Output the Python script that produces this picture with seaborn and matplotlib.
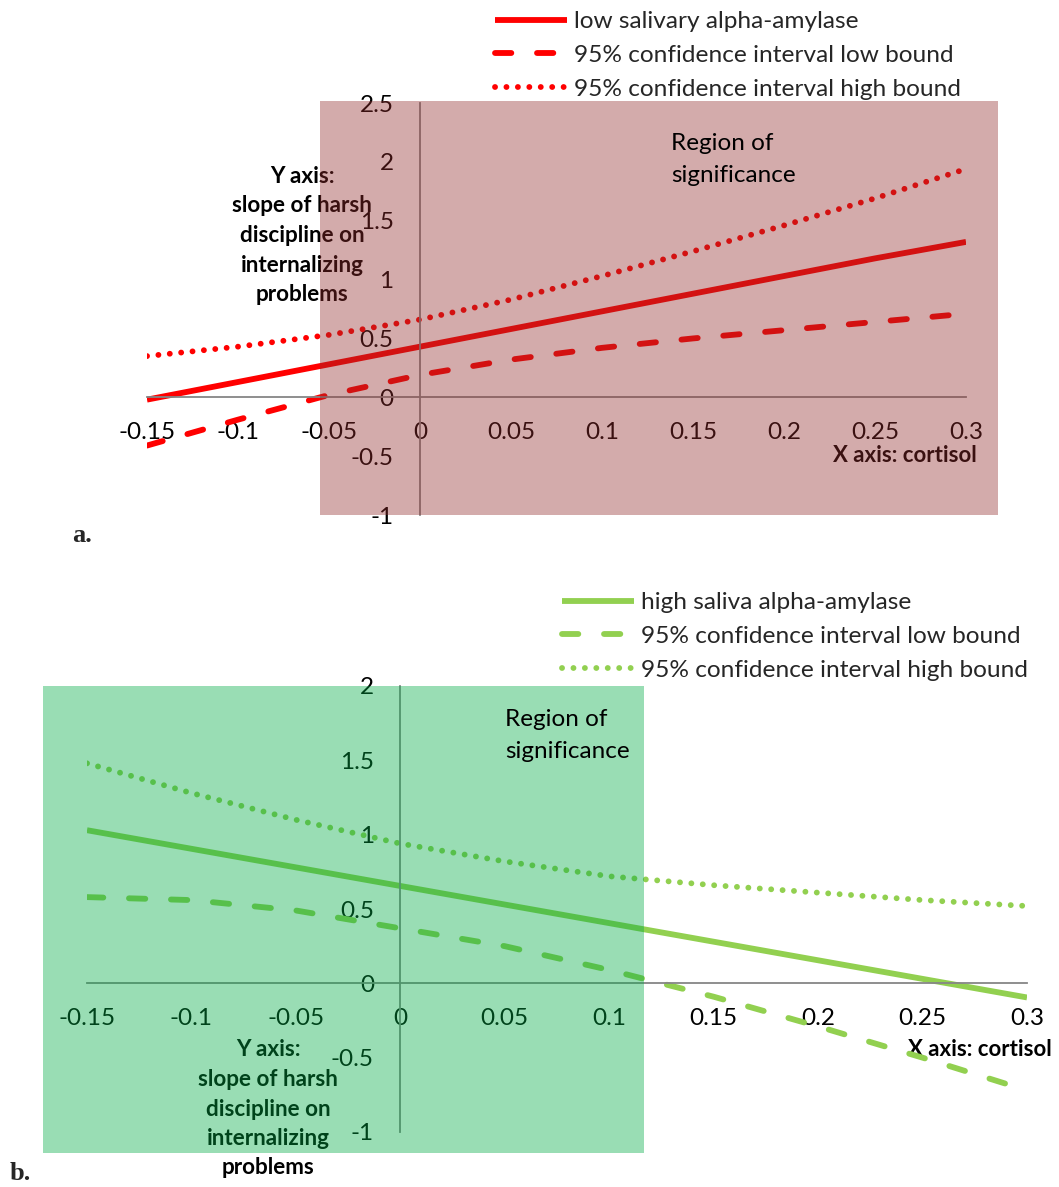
import matplotlib
matplotlib.use("Agg")
import matplotlib.pyplot as plt
import numpy as np
import pandas as pd
import seaborn as sns
from matplotlib.patches import Rectangle

# ---------------- data ----------------
cortisol = [-0.15, -0.10, -0.05, 0.00, 0.05, 0.10, 0.15, 0.20, 0.25, 0.30]

low_saa_slope = [-0.02, 0.13, 0.28, 0.43, 0.58, 0.73, 0.88, 1.03, 1.18, 1.32]
low_saa_ci_low = [-0.41, -0.19, 0.02, 0.19, 0.32, 0.42, 0.50, 0.57, 0.64, 0.71]
low_saa_ci_high = [0.35, 0.43, 0.53, 0.66, 0.83, 1.03, 1.24, 1.46, 1.69, 1.94]

high_saa_slope = [1.03, 0.905, 0.78, 0.655, 0.53, 0.405, 0.28, 0.155, 0.03, -0.095]
high_saa_ci_low = [0.58, 0.56, 0.49, 0.37, 0.25, 0.09, -0.09, -0.29, -0.50, -0.72]
high_saa_ci_high = [1.48, 1.28, 1.10, 0.94, 0.82, 0.72, 0.66, 0.61, 0.56, 0.52]

x_ticks = [-0.15, -0.1, -0.05, 0, 0.05, 0.1, 0.15, 0.2, 0.25, 0.3]
x_tick_labels = ["-0.15", "-0.1", "-0.05", "0", "0.05", "0.1", "0.15", "0.2", "0.25", "0.3"]
y_ticks_a = [-1, -0.5, 0, 0.5, 1, 1.5, 2, 2.5]
y_tick_labels_a = ["-1", "-0.5", "0", "0.5", "1", "1.5", "2", "2.5"]
y_ticks_b = [-1, -0.5, 0, 0.5, 1, 1.5, 2]
y_tick_labels_b = ["-1", "-0.5", "0", "0.5", "1", "1.5", "2"]

labels_a = ["low salivary alpha-amylase", "95% confidence interval low bound",
            "95% confidence interval high bound"]
labels_b = ["high saliva alpha-amylase", "95% confidence interval low bound",
            "95% confidence interval high bound"]

# region of significance bounds (x from, x to, y from, y to)
region_a = (-0.055, 0.3176, -1.0, 2.515)
region_b = (-0.171, 0.1165, -1.14, 2.0)

# ---------------- style ----------------
sns.set_theme(style="white")
plt.rcParams["font.family"] = ["Lato", "DejaVu Sans"]

W, H = 1059, 1187
fig = plt.figure(figsize=(W / 100, H / 100), dpi=100)
fig.patch.set_facecolor("white")


def fx(px):
    return px / W


def fy(py):
    return 1 - py / H


axA = fig.add_axes([fx(147), fy(515), 819 / W, 412 / H])
axB = fig.add_axes([fx(87), fy(1132), 940 / W, 446 / H])

SOLID = "-"
DASH = (0, (2.8, 4.4))
DOT = (0, (0.01, 1.95))


def draw_panel(ax, series, labels, color, yticks, yticklabels, ylim):
    df = pd.DataFrame({"x": cortisol})
    styles = [(SOLID, 4.2), (DASH, 4.2), (DOT, 4.2)]
    for (vals, lab, (ls, lw)) in zip(series, labels, styles):
        df["y"] = vals
        sns.lineplot(data=df, x="x", y="y", ax=ax, color=color, lw=lw,
                     linestyle=ls, dash_capstyle="round", solid_capstyle="butt",
                     label=lab, zorder=2)
    ax.set_xlim(-0.15, 0.3)
    ax.set_ylim(*ylim)
    ax.set_xlabel("")
    ax.set_ylabel("")
    for s in ["top", "right"]:
        ax.spines[s].set_visible(False)
    ax.spines["left"].set_position(("data", 0))
    ax.spines["bottom"].set_position(("data", 0))
    for s in ["left", "bottom"]:
        ax.spines[s].set_color("#868686")
        ax.spines[s].set_linewidth(1.3)
    ax.set_xticks(x_ticks)
    ax.set_xticklabels(x_tick_labels)
    ax.set_yticks(yticks)
    ax.set_yticklabels(yticklabels)
    ax.tick_params(axis="x", direction="out", length=6, width=1.3,
                   color="#868686", pad=12, labelsize=17.5, labelcolor="black")
    ax.tick_params(axis="y", direction="out", length=6, width=1.3,
                   color="#868686", pad=13, labelsize=17.5, labelcolor="black")
    ax.set_facecolor("none")


draw_panel(axA, [low_saa_slope, low_saa_ci_low, low_saa_ci_high], labels_a,
           "#ff0000", y_ticks_a, y_tick_labels_a, (-1, 2.5))
draw_panel(axB, [high_saa_slope, high_saa_ci_low, high_saa_ci_high], labels_b,
           "#92d050", y_ticks_b, y_tick_labels_b, (-1, 2))

# legends
for ax, (lx, ly) in [(axA, (495, 11)), (axB, (562, 592))]:
    h, l = ax.get_legend_handles_labels()
    ax.legend(h, l, loc="upper left", bbox_to_anchor=(fx(lx), fy(ly)),
              bbox_transform=fig.transFigure, frameon=False, fontsize=17.6,
              handlelength=2.95, handletextpad=0.3, labelspacing=0.52,
              borderpad=0, borderaxespad=0)

# region of significance overlays
ra = Rectangle((region_a[0], region_a[2]), region_a[1] - region_a[0],
               region_a[3] - region_a[2], facecolor="#932d2d", alpha=0.4,
               edgecolor="none", clip_on=False, zorder=4)
axA.add_patch(ra)
rb = Rectangle((region_b[0], region_b[2]), region_b[1] - region_b[0],
               region_b[3] - region_b[2], facecolor="#00aa44", alpha=0.4,
               edgecolor="none", clip_on=False, zorder=4)
axB.add_patch(rb)

ylab = "Y axis:\nslope of harsh\ndiscipline on\ninternalizing\nproblems"
axA.text(fx(302), fy(235.5), ylab, transform=fig.transFigure, ha="center",
         va="center", multialignment="center", fontsize=16.2, fontweight="bold",
         linespacing=1.5, color="black", zorder=3)
axB.text(fx(268), fy(1109), ylab, transform=fig.transFigure, ha="center",
         va="center", multialignment="center", fontsize=16.2, fontweight="bold",
         linespacing=1.5, color="black", zorder=3)

axA.text(fx(977), fy(455), "X axis: cortisol", transform=fig.transFigure,
         ha="right", va="center", fontsize=16, fontweight="bold", color="black",
         zorder=1)
axB.text(fx(1052), fy(1050), "X axis: cortisol", transform=fig.transFigure,
         ha="right", va="center", fontsize=16, fontweight="bold", color="black",
         zorder=1)

axA.text(fx(671), fy(159.5), "Region of\nsignificance", transform=fig.transFigure,
         ha="left", va="center", fontsize=17.5, linespacing=1.62, color="black",
         zorder=6)
axB.text(fx(505), fy(735.5), "Region of\nsignificance", transform=fig.transFigure,
         ha="left", va="center", fontsize=17.5, linespacing=1.62, color="black",
         zorder=6)

fig.text(fx(72), fy(535), "a.", ha="left", va="center", fontsize=19,
         fontweight="bold", family=["Liberation Serif", "DejaVu Serif"])
fig.text(fx(10), fy(1173), "b.", ha="left", va="center", fontsize=19,
         fontweight="bold", family=["Liberation Serif", "DejaVu Serif"])

fig.savefig("out.png", dpi=100, facecolor="white")
